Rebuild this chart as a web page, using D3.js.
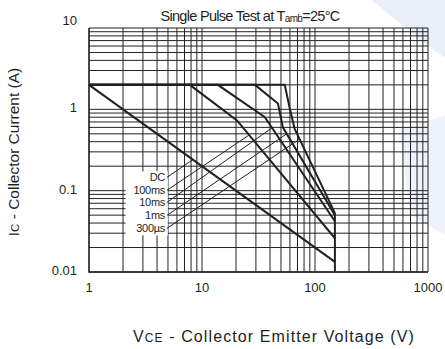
<!DOCTYPE html>
<html>
<head>
<meta charset="utf-8">
<script src="https://cdn.jsdelivr.net/npm/d3@7"></script>
<style>
  body { margin: 0; background: #fff; }
  svg { display: block; }
  text { font-family: "Liberation Sans", Arial, sans-serif; fill: #231f20; }
</style>
</head>
<body>
<div id="soa"></div>
<script>
  // axis ticks
  var xTicks = [1, 10, 100, 1000];
  var yTicks = [0.01, 0.1, 1, 10];

  // safe operating area curves (VCE in V, IC in A)
  var curveNames = ["DC", "100ms", "10ms", "1ms", "300µs"];
  var dcV = [1, 150],                        dcI = [2, 0.0133];
  var ms100V = [1, 7.8, 20.4, 150],          ms100I = [2, 2, 0.73, 0.026];
  var ms10V = [1, 13.8, 36, 150],            ms10I = [2, 2, 0.8, 0.042];
  var ms1V = [1, 29.4, 47, 52, 150],         ms1I = [2, 2, 1.18, 0.6, 0.05];
  var us300V = [1, 54, 60, 66, 150],         us300I = [2, 2, 1.0, 0.58, 0.053];
  var limitV = [150, 150],                   limitI = [0.01, 0.053];

  // label leaders: start (at the label) and the voltage where they meet their curve
  var labelV = 4.9;
  var labelI = [0.146, 0.101, 0.0718, 0.0497, 0.0344];
  var leaderToV = [8.3, 26.1, 41.6, 56.2, 73.1];

  var width = 445, height = 349;
  var margin = { "top": 28, "bottom": 77, "right": 17, "left": 89 };

  var svg = d3.select("#soa")
              .append("svg")
              .attr("width", width)
              .attr("height", height);

  // faint watermark in the background
  svg.append("path")
     .attr("d", "M372,0 L445,0 L445,58 L420,40 Z")
     .attr("fill", "#e9eff9");
  svg.append("path")
     .attr("d", "M400,130 L445,115 L445,235 L410,215 Z")
     .attr("fill", "#eef2fa");

  var xScale = d3.scaleLog()
    .domain([1, 1000])
    .range([margin.left, width - margin.right]);

  var yScale = d3.scaleLog()
    .domain([0.01, 10])
    .range([height - margin.bottom, margin.top]);

  // grid: every 1..9 step of each decade
  var xGrid = [], yGrid = [];
  [1, 10, 100].forEach(function(d) {
    for (var k = 1; k < 10; k++) xGrid.push(k * d);
  });
  xGrid.push(1000);
  [0.01, 0.1, 1].forEach(function(d) {
    for (var k = 1; k < 10; k++) yGrid.push(+(k * d).toFixed(3));
  });
  yGrid.push(10);

  var grid = svg.append("g").attr("class", "grid")
    .attr("stroke", "#222")
    .attr("stroke-width", 1);

  grid.selectAll(".vx").data(xGrid).enter()
    .append("line")
    .attr("x1", function(d) { return xScale(d); })
    .attr("x2", function(d) { return xScale(d); })
    .attr("y1", yScale(10))
    .attr("y2", yScale(0.01));

  grid.selectAll(".hy").data(yGrid).enter()
    .append("line")
    .attr("x1", xScale(1))
    .attr("x2", xScale(1000))
    .attr("y1", function(d) { return yScale(d); })
    .attr("y2", function(d) { return yScale(d); });

  // tick labels
  svg.append("g").selectAll("text")
    .data(xTicks).enter()
    .append("text")
    .attr("x", function(d) { return xScale(d); })
    .attr("y", height - margin.bottom + 20)
    .attr("text-anchor", "middle")
    .attr("font-size", "13px")
    .text(function(d) { return d; });

  svg.append("g").selectAll("text")
    .data(yTicks).enter()
    .append("text")
    .attr("x", margin.left - 12)
    .attr("y", function(d, i) { return yScale(d) + (i === yTicks.length - 1 ? -3 : 3); })
    .attr("text-anchor", "end")
    .attr("font-size", "13px")
    .text(function(d) { return d; });

  // curves
  var line = d3.line()
    .x(function(d) { return xScale(d[0]); })
    .y(function(d) { return yScale(d[1]); });

  function pairs(vs, is) { return vs.map(function(v, i) { return [v, is[i]]; }); }

  var curves = [pairs(dcV, dcI), pairs(ms100V, ms100I), pairs(ms10V, ms10I),
                pairs(ms1V, ms1I), pairs(us300V, us300I)];

  // current on a curve at a given voltage (log-log interpolation)
  function curveAt(c, v) {
    for (var k = 0; k < c.length - 1; k++) {
      if (v >= c[k][0] && v <= c[k + 1][0]) {
        var t = Math.log(v / c[k][0]) / Math.log(c[k + 1][0] / c[k][0]);
        return Math.exp(Math.log(c[k][1]) + t * Math.log(c[k + 1][1] / c[k][1]));
      }
    }
    return c[c.length - 1][1];
  }

  // labels with white box behind them
  var labels = svg.append("g").attr("class", "labels");
  var box = labels.append("rect").attr("fill", "#fff");

  labels.selectAll("text")
    .data(curveNames).enter()
    .append("text")
    .attr("x", xScale(labelV) - 2)
    .attr("y", function(d, i) { return yScale(labelI[i]) + 4; })
    .attr("text-anchor", "end")
    .attr("font-size", "11px")
    .attr("letter-spacing", "-0.3px")
    .text(function(d) { return d; });

  var bb = labels.node().getBBox();
  box.attr("x", bb.x - 8).attr("y", bb.y)
     .attr("width", bb.width + 10).attr("height", bb.height + 1);

  // leaders
  svg.append("g").selectAll("line")
    .data(curveNames).enter()
    .append("line")
    .attr("x1", xScale(labelV))
    .attr("y1", function(d, i) { return yScale(labelI[i]); })
    .attr("x2", function(d, i) { return xScale(leaderToV[i]); })
    .attr("y2", function(d, i) { return yScale(curveAt(curves[i], leaderToV[i])); })
    .attr("stroke", "#231f20")
    .attr("stroke-width", 1);

  svg.append("g").selectAll("path")
    .data(curves.concat([pairs(limitV, limitI)])).enter()
    .append("path")
    .attr("d", line)
    .attr("fill", "none")
    .attr("stroke", "#231f20")
    .attr("stroke-width", 2)
    .attr("stroke-linejoin", "miter");

  // frame
  svg.append("path")
    .attr("d", "M" + xScale(1) + "," + yScale(10) + "V" + yScale(0.01) + "H" + xScale(1000))
    .attr("fill", "none")
    .attr("stroke", "#231f20")
    .attr("stroke-width", 1.3);

  // title
  var title = svg.append("text")
    .attr("x", 250)
    .attr("y", 21)
    .attr("text-anchor", "middle")
    .attr("font-size", "14.5px")
    .attr("letter-spacing", "-0.7px");
  title.append("tspan").text("Single Pulse Test at T");
  title.append("tspan").attr("font-size", "10px").attr("dy", 1).text("amb");
  title.append("tspan").attr("dy", -1).text("=25°C");

  // axis titles
  var xt = svg.append("text")
    .attr("x", 274)
    .attr("y", 342)
    .attr("text-anchor", "middle")
    .attr("font-size", "16px")
    .attr("letter-spacing", "1.1px");
  xt.append("tspan").text("V");
  xt.append("tspan").attr("font-size", "12px").text("CE");
  xt.append("tspan").text(" - Collector Emitter Voltage (V)");

  var yt = svg.append("text")
    .attr("transform", "translate(19,152) rotate(-90)")
    .attr("text-anchor", "middle")
    .attr("font-size", "15.5px");
  yt.append("tspan").text("I");
  yt.append("tspan").attr("font-size", "11.5px").text("C");
  yt.append("tspan").text(" - Collector Current (A)");
</script>
</body>
</html>
